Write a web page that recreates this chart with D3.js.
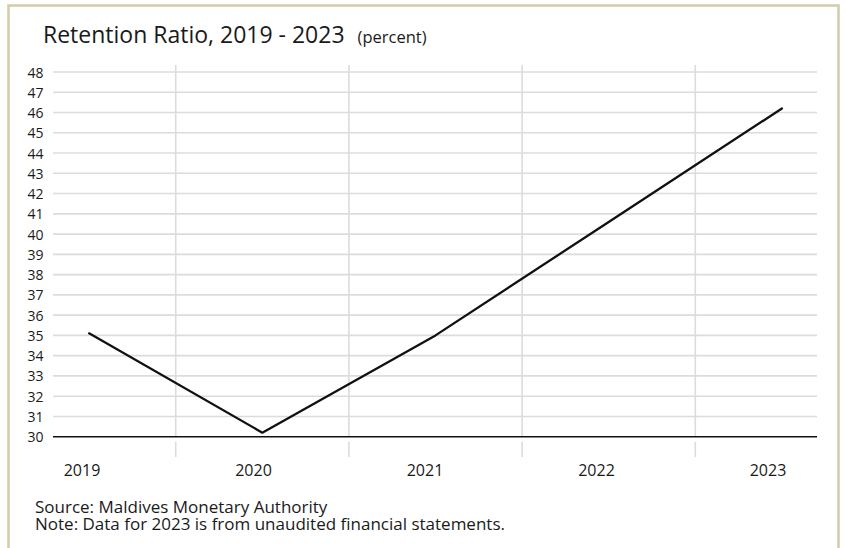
<!DOCTYPE html>
<html>
<head>
<meta charset="utf-8">
<script src="https://cdn.jsdelivr.net/npm/d3@7"></script>
<style>
  html, body { margin: 0; padding: 0; background: #fff; }
  svg { display: block; }
  text { font-family: "Open Sans", "Noto Sans", sans-serif; fill: #1a1a1a; }
</style>
</head>
<body>
<svg id="chart" width="846" height="548"></svg>
<script>
// Retention ratio by year (percent)
const years = ["2019", "2020", "2021", "2022", "2023"];
const retentionRatio = [35.1, 30.2, 35.0, 40.6, 46.2];
const yTicks = d3.range(30, 49, 1);

const titleText = "Retention Ratio, 2019 - 2023";
const unitText = "(percent)";
const sourceLines = [
  "Source: Maldives Monetary Authority",
  "Note: Data for 2023 is from unaudited financial statements."
];

const W = 846, H = 548;
const plot = { left: 53, right: 817, top: 72, bottom: 436.7 };

const svg = d3.select("#chart");

// outer frame
svg.append("rect")
  .attr("x", 8.5).attr("y", 5.5)
  .attr("width", 830).attr("height", 560)
  .attr("fill", "#fff")
  .attr("stroke", "#d3cbab")
  .attr("stroke-width", 2.5);

// scales
const x = d3.scaleBand().domain(years).range([2.5, 868.5]).padding(0);
const xc = d => x(d) + x.bandwidth() / 2;
const xLabel = d3.scalePoint().domain(years).range([82, 768]);
const y = d3.scaleLinear().domain([30, 48]).range([plot.bottom, plot.top]);

// horizontal gridlines
svg.append("g")
  .selectAll("line")
  .data(yTicks.filter(v => v > 30))
  .join("line")
  .attr("x1", plot.left).attr("x2", plot.right)
  .attr("y1", d => y(d)).attr("y2", d => y(d))
  .attr("stroke", "#dcdcdc")
  .attr("stroke-width", 1.6);

// vertical separators between years
const seps = years.slice(1).map(d => x(d));
const vg = svg.append("g");
vg.selectAll("line.top")
  .data(seps)
  .join("line")
  .attr("class", "top")
  .attr("x1", d => d).attr("x2", d => d)
  .attr("y1", 65).attr("y2", plot.bottom)
  .attr("stroke", "#dcdcdc")
  .attr("stroke-width", 1.6);
vg.selectAll("line.tick")
  .data(seps)
  .join("line")
  .attr("class", "tick")
  .attr("x1", d => d).attr("x2", d => d)
  .attr("y1", plot.bottom + 5).attr("y2", 457)
  .attr("stroke", "#dcdcdc")
  .attr("stroke-width", 1.6);

// baseline at 30
svg.append("line")
  .attr("x1", plot.left).attr("x2", plot.right)
  .attr("y1", y(30)).attr("y2", y(30))
  .attr("stroke", "#111")
  .attr("stroke-width", 1.6);

// y axis labels
const yAxis = d3.axisLeft(y).tickValues(yTicks).tickSize(0).tickPadding(0);
const yg = svg.append("g").attr("transform", `translate(${43.5},0)`).call(yAxis);
yg.select(".domain").remove();
yg.selectAll("text")
  .attr("font-family", "'Open Sans', sans-serif")
  .attr("font-size", 14)
  .attr("fill", "#1a1a1a")
  .attr("dy", "0.36em");

// x axis labels
svg.append("g")
  .selectAll("text")
  .data(years)
  .join("text")
  .attr("x", d => xLabel(d))
  .attr("y", 476)
  .attr("text-anchor", "middle")
  .attr("font-size", 16)
  .text(d => d);

// the line
const line = d3.line()
  .x((d, i) => xc(years[i]))
  .y(d => y(d));
svg.append("path")
  .datum(retentionRatio)
  .attr("d", line)
  .attr("fill", "none")
  .attr("stroke", "#111")
  .attr("stroke-width", 2.3)
  .attr("stroke-linejoin", "round")
  .attr("stroke-linecap", "round");

// title
const title = svg.append("text")
  .attr("x", 43).attr("y", 43);
title.append("tspan")
  .attr("font-size", 23)
  .text(titleText);
title.append("tspan")
  .attr("dx", 13)
  .attr("font-size", 16.5)
  .text(unitText);

// source notes: one text block, two lines
svg.append("text")
  .attr("x", 35)
  .attr("y", 513)
  .attr("font-size", 17)
  .selectAll("tspan")
  .data(sourceLines)
  .join("tspan")
  .attr("x", 35)
  .attr("dy", (d, i) => i === 0 ? 0 : 17)
  .text(d => d);
</script>
</body>
</html>
